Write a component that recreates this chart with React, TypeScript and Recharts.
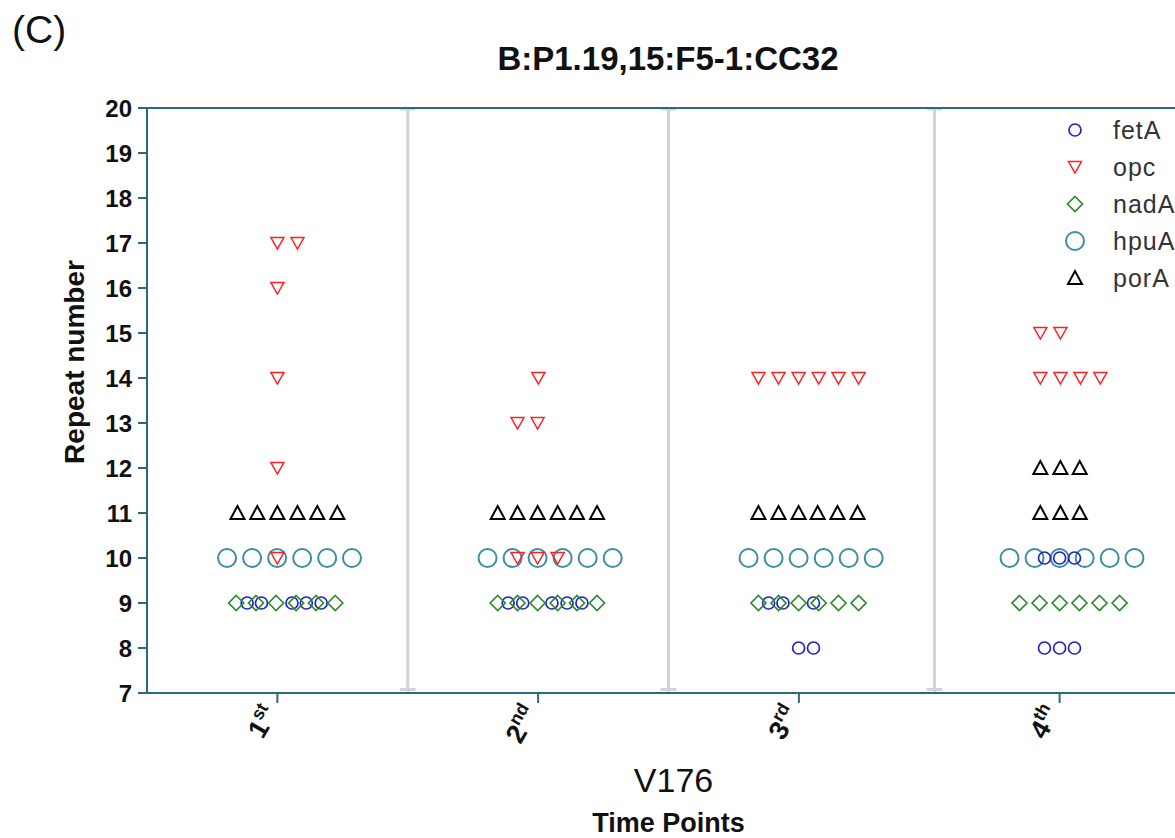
import React from 'react';
import { ScatterChart, Scatter, XAxis, YAxis, ReferenceLine, Legend } from 'recharts';

// x = time point slot (1st centred on 0.5, 2nd on 1.5 ...) plus the dodge offset, y = repeat number
const fetA: [number, number][] = [
  [0.384, 9], [0.439, 9], [0.556, 9], [0.611, 9], [0.668, 9],
  [1.385, 9], [1.441, 9], [1.553, 9], [1.611, 9], [1.668, 9],
  [2.384, 9], [2.439, 9], [2.556, 9], [2.499, 8], [2.556, 8],
  [3.442, 10], [3.5, 10], [3.557, 10], [3.442, 8], [3.5, 8], [3.557, 8],
];
const opc: [number, number][] = [
  [0.5, 10], [0.5, 12], [0.5, 14], [0.5, 16], [0.5, 17], [0.577, 17],
  [1.421, 10], [1.498, 10], [1.575, 10], [1.421, 13], [1.498, 13], [1.501, 14],
  [2.345, 14], [2.422, 14], [2.499, 14], [2.576, 14], [2.652, 14], [2.729, 14],
  [3.426, 15], [3.503, 15], [3.426, 14], [3.503, 14], [3.58, 14], [3.656, 14],
];
const nadA: [number, number][] = [
  [0.342, 9], [0.418, 9], [0.495, 9], [0.572, 9], [0.648, 9], [0.722, 9],
  [1.345, 9], [1.421, 9], [1.498, 9], [1.575, 9], [1.649, 9], [1.726, 9],
  [2.345, 9], [2.422, 9], [2.499, 9], [2.576, 9], [2.652, 9], [2.729, 9],
  [3.346, 9], [3.423, 9], [3.5, 9], [3.576, 9], [3.653, 9], [3.73, 9],
];
const hpuA: [number, number][] = [
  [0.307, 10], [0.403, 10], [0.499, 10], [0.595, 10], [0.691, 10], [0.786, 10],
  [1.306, 10], [1.402, 10], [1.498, 10], [1.594, 10], [1.69, 10], [1.786, 10],
  [2.307, 10], [2.403, 10], [2.499, 10], [2.595, 10], [2.691, 10], [2.787, 10],
  [3.308, 10], [3.404, 10], [3.5, 10], [3.596, 10], [3.692, 10], [3.787, 10],
];
const porA: [number, number][] = [
  [0.347, 11], [0.423, 11], [0.5, 11], [0.577, 11], [0.653, 11], [0.73, 11],
  [1.345, 11], [1.421, 11], [1.498, 11], [1.575, 11], [1.649, 11], [1.726, 11],
  [2.345, 11], [2.422, 11], [2.499, 11], [2.572, 11], [2.648, 11], [2.725, 11],
  [3.426, 12], [3.503, 12], [3.577, 12], [3.426, 11], [3.503, 11], [3.577, 11],
];

const timeTicks = [0.5, 1.5, 2.5, 3.5];
const timeNums = ['1', '2', '3', '4'];
const timeSups = ['st', 'nd', 'rd', 'th'];
const repeatTicks = [7, 8, 9, 10, 11, 12, 13, 14, 15, 16, 17, 18, 19, 20];
const separators = [1, 2, 3.02];

const AXIS = '#2f6877';
const SEP = '#d3d3d3';
const FONT = '"Liberation Sans", Arial, sans-serif';

type Kind = 'smallCircle' | 'bigCircle' | 'diamond' | 'triUp' | 'triDown';

const series = [
  { name: 'fetA', data: fetA, kind: 'smallCircle' as Kind, color: '#2323c8' },
  { name: 'opc', data: opc, kind: 'triDown' as Kind, color: '#ff1f1f' },
  { name: 'nadA', data: nadA, kind: 'diamond' as Kind, color: '#2e8b2e' },
  { name: 'hpuA', data: hpuA, kind: 'bigCircle' as Kind, color: '#3a8ea5' },
  { name: 'porA', data: porA, kind: 'triUp' as Kind, color: '#000000' },
];
// drawing order: big circles at the back
const drawOrder = ['hpuA', 'opc', 'fetA', 'nadA', 'porA'];

const marker = (kind: Kind, color: string, cx: number, cy: number) => {
  switch (kind) {
    case 'smallCircle':
      return <circle cx={cx} cy={cy} r={6} fill="none" stroke={color} strokeWidth={1.7} />;
    case 'bigCircle':
      return <circle cx={cx} cy={cy} r={9} fill="none" stroke={color} strokeWidth={2} />;
    case 'diamond':
      return (
        <polygon
          points={`${cx},${cy - 7.5} ${cx + 7.5},${cy} ${cx},${cy + 7.5} ${cx - 7.5},${cy}`}
          fill="none" stroke={color} strokeWidth={1.7}
        />
      );
    case 'triUp':
      return (
        <polygon
          points={`${cx - 7},${cy + 6} ${cx + 7},${cy + 6} ${cx},${cy - 7}`}
          fill="none" stroke={color} strokeWidth={2} strokeLinejoin="miter"
        />
      );
    default:
      return (
        <polygon
          points={`${cx - 6.5},${cy - 5.5} ${cx + 6.5},${cy - 5.5} ${cx},${cy + 6}`}
          fill="none" stroke={color} strokeWidth={1.5}
        />
      );
  }
};

const shapeFor = (kind: Kind, color: string) => (props: any) => {
  const { cx, cy } = props;
  if (cx == null || cy == null) return <g />;
  return marker(kind, color, cx, cy);
};

const TimeTick = (props: any) => {
  const { x, y, payload } = props;
  const i = timeTicks.indexOf(payload.value);
  return (
    <g transform={`translate(${x + 1},${y + 8})`}>
      <text transform="rotate(-60)" textAnchor="end" fontFamily={FONT} fontWeight={700} fill="#111" fontSize={27}>
        <tspan>{timeNums[i]}</tspan>
        <tspan fontSize={18} dy={-11}>{timeSups[i]}</tspan>
      </text>
    </g>
  );
};

const XTitle = (props: any) => {
  const { viewBox } = props;
  const cx = viewBox.x + viewBox.width / 2;
  return (
    <g fontFamily={FONT} fill="#111">
      <text x={cx + 5} y={792} textAnchor="middle" fontSize={34}>V176</text>
      <text x={cx} y={832} textAnchor="middle" fontSize={27} fontWeight={700}>Time Points</text>
    </g>
  );
};

const YTitle = () => (
  <text
    x={0} y={0}
    transform="translate(84,362) rotate(-90)"
    textAnchor="middle" fontFamily={FONT} fontSize={28} fontWeight={700} fill="#111"
  >
    Repeat number
  </text>
);

const LegendBox = () => (
  <svg width={140} height={190} style={{ overflow: 'visible' }}>
    {series.map((s, i) => {
      const cy = 20 + i * 37;
      return (
        <g key={s.name}>
          {marker(s.kind, s.color, 17, cy)}
          <text x={55} y={cy + 9} fontFamily={FONT} fontSize={25} fill="#333" letterSpacing={1}>{s.name}</text>
        </g>
      );
    })}
  </svg>
);

export default function App() {
  return (
    <div style={{ position: 'absolute', left: 0, top: 0, width: 1175, height: 838, overflow: 'hidden', background: '#fff' }}>
      <ScatterChart width={1200} height={838} margin={{ top: 108, right: 10, bottom: 0, left: 0 }}>
        <XAxis
          type="number"
          dataKey="x"
          domain={[0, 4]}
          ticks={timeTicks}
          interval={0}
          height={145}
          stroke={AXIS}
          strokeWidth={2}
          tickSize={10}
          tickMargin={2}
          tick={<TimeTick />}
          label={<XTitle />}
        />
        <XAxis
          xAxisId="top"
          orientation="top"
          mirror
          type="number"
          domain={[0, 4]}
          ticks={timeTicks}
          stroke={AXIS}
          strokeWidth={2}
          tickSize={8}
          tick={false}
        />
        <YAxis
          type="number"
          dataKey="y"
          domain={[7, 20]}
          ticks={repeatTicks}
          interval={0}
          width={147}
          stroke={AXIS}
          strokeWidth={2}
          tickSize={9}
          tickMargin={6}
          tick={{ fill: '#111', fontSize: 24, fontWeight: 700, fontFamily: FONT }}
          label={<YTitle />}
        />
        {separators.map((s) => (
          <ReferenceLine key={`sep${s}`} x={s} stroke={SEP} strokeWidth={3} />
        ))}
        {separators.map((s) => (
          <ReferenceLine
            key={`capTop${s}`}
            segment={[{ x: s - 0.03, y: 19.98 }, { x: s + 0.03, y: 19.98 }]}
            stroke={SEP}
            strokeWidth={3}
          />
        ))}
        {separators.map((s) => (
          <ReferenceLine
            key={`capBot${s}`}
            segment={[{ x: s - 0.03, y: 7.08 }, { x: s + 0.03, y: 7.08 }]}
            stroke={SEP}
            strokeWidth={3}
          />
        ))}
        {drawOrder.map((name) => {
          const s = series.find((d) => d.name === name)!;
          return (
            <Scatter
              key={s.name}
              name={s.name}
              data={s.data.map(([x, y]) => ({ x, y }))}
              fill={s.color}
              shape={shapeFor(s.kind, s.color)}
              isAnimationActive={false}
            />
          );
        })}
        <Legend
          layout="horizontal"
          verticalAlign="middle"
          align="center"
          content={() => <LegendBox />}
          wrapperStyle={{ left: 1058, top: 110, width: 140, height: 190 }}
        />
      </ScatterChart>
      <svg width={1175} height={100} style={{ position: 'absolute', left: 0, top: 0, pointerEvents: 'none' }}>
        <text x={12} y={43} fontFamily={FONT} fontSize={39} fill="#111">(C)</text>
        <text x={668} y={70} textAnchor="middle" fontFamily={FONT} fontSize={33} fontWeight={700} fill="#111">
          B:P1.19,15:F5-1:CC32
        </text>
      </svg>
    </div>
  );
}
